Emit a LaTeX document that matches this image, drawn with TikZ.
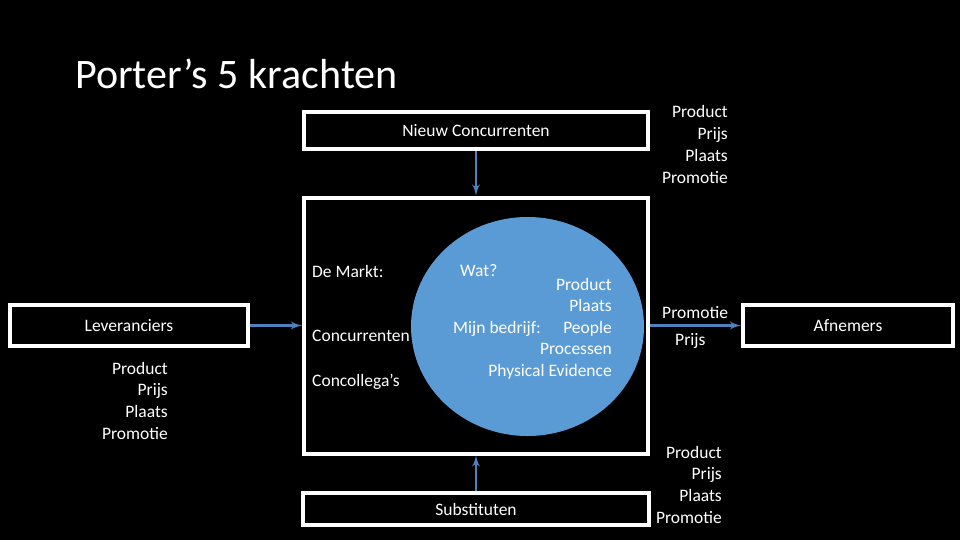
\documentclass[tikz,border=0pt]{standalone}
\usepackage{fontspec}
\setmainfont{Carlito}
\usetikzlibrary{shapes.geometric, arrows, positioning}

\definecolor{pijl}{RGB}{79,129,189}
\definecolor{bol}{RGB}{91,155,213}
\newcommand{\tekst}{\fontsize{17.5}{21.5}\selectfont}

\begin{document}
\begin{tikzpicture}[
    x=1pt, y=-1pt,
    box/.style={rectangle, draw=white, line width=4pt, fill=black, text=white, font=\tekst, inner sep=0pt},
    lbl/.style={text=white, font=\tekst, inner sep=0pt},
    line/.style={draw=pijl, -latex', line width=2.8pt}
]

\fill [black] (0,0) rectangle (960,540);
\useasboundingbox (0,0) rectangle (960,540);

\node [anchor=base west, text=white, inner sep=0pt, font=\fontsize{42}{50}\selectfont] (titel) at (75,89) {Porter’s 5 krachten};

\node [box, minimum width=344pt, minimum height=37pt] (nieuw) at (476,130.5) {Nieuw Concurrenten};
\node [box, minimum width=344pt, minimum height=256pt] (markt) at (476,325.5) {};
\node [box, minimum width=346pt, minimum height=32pt] (subst) at (476,509) {Substituten};
\node [box, minimum width=238pt, minimum height=41pt] (lev) at (129,325.5) {Leveranciers};
\node [box, minimum width=210pt, minimum height=41pt] (afn) at (848,325.5) {Afnemers};

\node [ellipse, fill=bol, inner sep=0pt, minimum width=233pt, minimum height=219pt] (bedrijf) at (527.5,326.5) {};

% de markt
\node [lbl, anchor=base west] (markttitel) at (312,277) {De Markt:};
\node [lbl, anchor=base west] (concurrenten) at (312,341) {Concurrenten};
\node [lbl, anchor=base west] (collegas) at (312,386) {Concollega’s};

% mijn bedrijf
\node [lbl, anchor=base west] (wat) at (460,276) {Wat?};
\node [lbl, anchor=base west] (mijn) at (453,333) {Mijn bedrijf:};
\foreach \woord [count=\i] in {Product,Plaats,People,Processen,Physical Evidence}
    \node [lbl, anchor=base east] (bedrijf\i) at (612,{268.5+21.5*\i}) {\woord};

% de 4 p's
\foreach \woord [count=\i] in {Product,Prijs,Plaats,Promotie} {
    \node [lbl, anchor=base east] (links\i) at (168,{352.3+21.7*\i}) {\woord};
    \node [lbl, anchor=base east] (boven\i) at (728,{96.3+21.7*\i}) {\woord};
    \node [lbl, anchor=base east] (onder\i) at (722,{436.3+21.7*\i}) {\woord};
}
\node [lbl, anchor=base west] (promotie) at (662,318) {Promotie};
\node [lbl, anchor=base west] (prijs) at (675,345) {Prijs};

\path [line] (nieuw) -- (markt);
\path [line] (subst) -- (markt);
\path [line] (lev) -- (markt);
\path [line] (markt) -- (afn);

\end{tikzpicture}
\end{document}
